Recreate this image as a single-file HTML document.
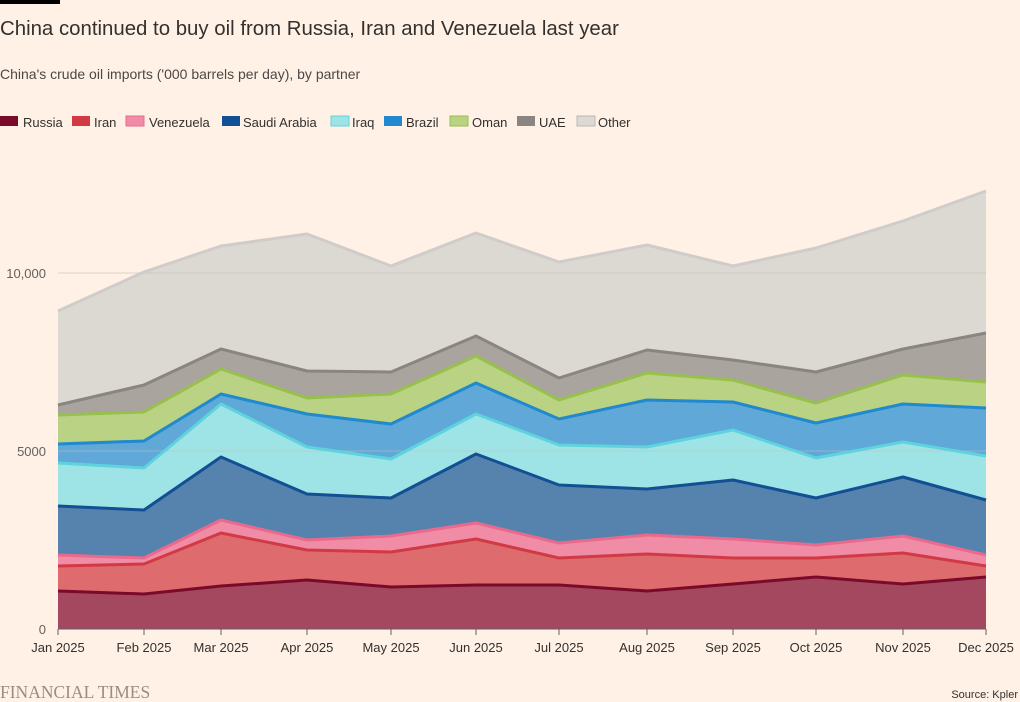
<!DOCTYPE html><html><head><meta charset="utf-8"><style>
body{margin:0;background:#fff1e5;font-family:"Liberation Sans",sans-serif;}
</style></head><body>
<svg width="1020" height="702" xmlns="http://www.w3.org/2000/svg" style="display:block">
<rect width="1020" height="702" fill="#fff1e5"/>
<rect x="0" y="0" width="60" height="4" fill="#000"/>
<text x="0" y="35" font-size="20.4" fill="#33302e">China continued to buy oil from Russia, Iran and Venezuela last year</text>
<text x="0" y="79" font-size="14" fill="#4d4845">China's crude oil imports ('000 barrels per day), by partner</text>
<g font-size="13" fill="#33302e">
<rect x="0" y="116" width="18" height="10" fill="#7a0a2a"/><text x="23" y="127">Russia</text>
<rect x="72" y="116" width="18" height="10" fill="#d13a45"/><text x="94" y="127">Iran</text>
<rect x="126" y="116" width="18" height="10" fill="#f08ca5" stroke="#ea6a8e"/><text x="149" y="127">Venezuela</text>
<rect x="222" y="116" width="18" height="10" fill="#124f93"/><text x="243" y="127">Saudi Arabia</text>
<rect x="331" y="116" width="18" height="10" fill="#9ee4e6" stroke="#5fd3dd"/><text x="352" y="127">Iraq</text>
<rect x="384" y="116" width="18" height="10" fill="#2189cd"/><text x="406" y="127">Brazil</text>
<rect x="450" y="116" width="18" height="10" fill="#bad283" stroke="#97c04d"/><text x="472" y="127">Oman</text>
<rect x="517" y="116" width="18" height="10" fill="#8a8583"/><text x="539" y="127">UAE</text>
<rect x="577" y="116" width="18" height="10" fill="#dcd8d2" stroke="#bcb8b4"/><text x="598" y="127">Other</text>
</g>
<g id="layers"></g>
<g font-size="13" fill="#66605c" text-anchor="end">
<text x="46" y="278">10,000</text><text x="46" y="456">5000</text><text x="46" y="634">0</text>
</g>
<g id="xt" font-size="13" fill="#33302e" text-anchor="middle"></g>
<text x="0" y="698" font-size="17.5" fill="#9a8d82" font-family="Liberation Serif,serif">FINANCIAL TIMES</text>
<text x="1018" y="698" font-size="11" fill="#33302e" text-anchor="end">Source: Kpler</text>
</svg>
<script>
const xs=[58,144,221,307,391,476,559,647,733,816,903,986];
const L=[
["#a3485f","#7a0a2a",[591,594,586,580,587,585,585,591,584,577,584,577]],
["#de6b6e","#d13a45",[566,564,533,550,552,539,558,554,558,558,553,566]],
["#f08ca5","#ea6a8e",[555,558,520,540,536,523,543,535,539,545,536,555]],
["#5583ad","#124f93",[506,510,457,494,498,454,485,489,480,498,477,500]],
["#9ee4e6","#5fd3dd",[463,468,404,447,459,414,445,447,430,458,442,456]],
["#5fa8d7","#2189cd",[444,441,394,414,424,383,419,400,402,423,404,408]],
["#bad283","#97c04d",[415,412,369,398,394,356,400,373,380,403,375,382]],
["#aaa49f","#8a8583",[405,385,349,371,372,336,378,350,360,372,349,333]],
["#dcd8d2","#cfccca",[311,272,246,234,266,233,262,245,266,248,221,191]]];
const ns="http://www.w3.org/2000/svg",g=document.getElementById("layers");
function el(t,a){const e=document.createElementNS(ns,t);for(const k in a)e.setAttribute(k,a[k]);return e}
let prev=xs.map(()=>629);
L.forEach(([f,s,y])=>{const top=xs.map((x,i)=>x+","+y[i]);const bot=xs.map((x,i)=>x+","+prev[i]).reverse();
g.appendChild(el("polygon",{points:top.concat(bot).join(" "),fill:f}));prev=y;});
g.appendChild(el("line",{x1:58,x2:986,y1:273,y2:273,stroke:"#c9beb4","stroke-width":1,opacity:0.6}));
g.appendChild(el("line",{x1:58,x2:986,y1:451,y2:451,stroke:"#c9beb4","stroke-width":1,opacity:0.5}));
L.slice().reverse().forEach(([f,s,y])=>{g.appendChild(el("polyline",{points:xs.map((x,i)=>x+","+y[i]).join(" "),fill:"none",stroke:s,"stroke-width":3,"stroke-linejoin":"round"}))});
g.appendChild(el("line",{x1:58,x2:986,y1:629,y2:629,stroke:"#66605c","stroke-width":1}));
const xt=document.getElementById("xt");const m=["Jan","Feb","Mar","Apr","May","Jun","Jul","Aug","Sep","Oct","Nov","Dec"];
xs.forEach((x,i)=>{xt.appendChild(el("line",{x1:x,x2:x,y1:629,y2:635,stroke:"#66605c"}));const t=el("text",{x:x,y:652});t.textContent=m[i]+" 2025";xt.appendChild(t)});
</script>
</body></html>
